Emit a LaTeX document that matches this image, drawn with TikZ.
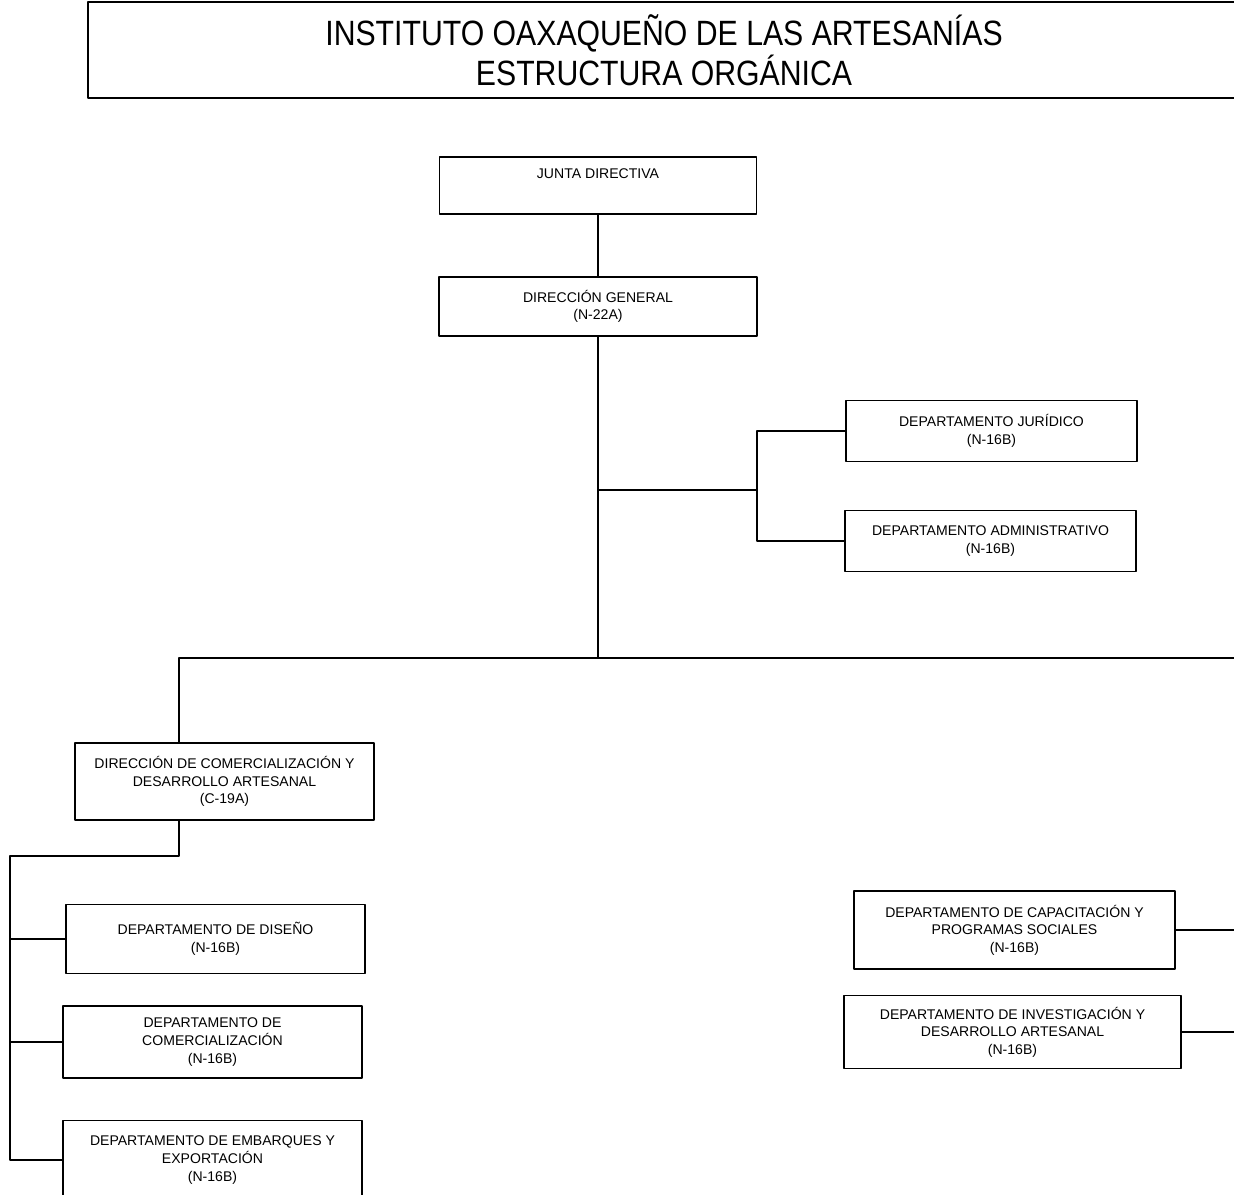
\documentclass[tikz,border=0pt]{standalone}
\usepackage{fontspec}
\setmainfont{Liberation Sans}
\newfontfamily\titulofont[FakeStretch=0.86]{Liberation Sans}
\begin{document}
\begin{tikzpicture}[x=0.02cm,y=-0.02cm,line join=round,line width=1.1pt,
		caja/.style 2 args={draw,align=center,inner sep=0pt,minimum width=#1*0.02cm,minimum height=#2*0.02cm,font=\fontsize{8}{10}\selectfont}]
	\useasboundingbox (0,0) rectangle (1234,1195);
	\clip (0,0) rectangle (1234,1195);
	% Titulo
	\node[draw,align=center,minimum width=1152*0.02cm,minimum height=96*0.02cm,font=\titulofont\fontsize{20}{22.7}\selectfont] (titulo) at (664,50) {INSTITUTO OAXAQUEÑO DE LAS ARTESANÍAS\\ESTRUCTURA ORGÁNICA};
	% Cajas
	\node[caja={317}{57}] (junta) at (598,185.5) {JUNTA DIRECTIVA\\ \strut};
	\node[caja={318}{59}] (dg) at (598,306.5) {DIRECCIÓN GENERAL\\(N-22A)};
	\node[caja={291}{61}] (jur) at (991.5,431) {DEPARTAMENTO JURÍDICO\\(N-16B)};
	\node[caja={291}{61}] (adm) at (990.5,541) {DEPARTAMENTO ADMINISTRATIVO\\(N-16B)};
	\node[caja={299}{77}] (dcom) at (224.5,781.5) {DIRECCIÓN DE COMERCIALIZACIÓN Y\\DESARROLLO ARTESANAL\\(C-19A)};
	\node[caja={299}{69}] (dis) at (215.5,939) {DEPARTAMENTO DE DISEÑO\\(N-16B)};
	\node[caja={299}{72}] (com) at (212.5,1042) {DEPARTAMENTO DE\\COMERCIALIZACIÓN\\(N-16B)};
	\node[caja={299}{79}] (emb) at (212.5,1160) {DEPARTAMENTO DE EMBARQUES Y\\EXPORTACIÓN\\(N-16B)};
	\node[caja={321}{78}] (cap) at (1014.5,930) {DEPARTAMENTO DE CAPACITACIÓN Y\\PROGRAMAS SOCIALES\\(N-16B)};
	\node[caja={337}{73}] (inv) at (1012.5,1032) {DEPARTAMENTO DE INVESTIGACIÓN Y\\DESARROLLO ARTESANAL\\(N-16B)};
	% Puntos de union
	\coordinate (ap) at (757,490);
	\coordinate (bi) at (179,658);
	\coordinate (bd) at (1240,658);
	\coordinate (sd) at (179,856);
	\coordinate (si) at (10,856);
	% Lineas
	\draw (junta) -- (dg);
	\draw (dg.south) -- (dg.south |- bi);
	\draw (dg.south |- ap) -- (ap);
	\draw (jur.west) -| (ap) |- (adm.west);
	\draw (dcom.north -| bi) -- (bi) -- (bd);
	\draw (dcom.south -| sd) -- (sd) -- (si) |- (emb.west);
	\draw (dis.west) -- (dis.west -| si);
	\draw (com.west) -- (com.west -| si);
	\draw (cap.east) -- (cap.east -| bd);
	\draw (inv.east) -- (inv.east -| bd);
\end{tikzpicture}
\end{document}
